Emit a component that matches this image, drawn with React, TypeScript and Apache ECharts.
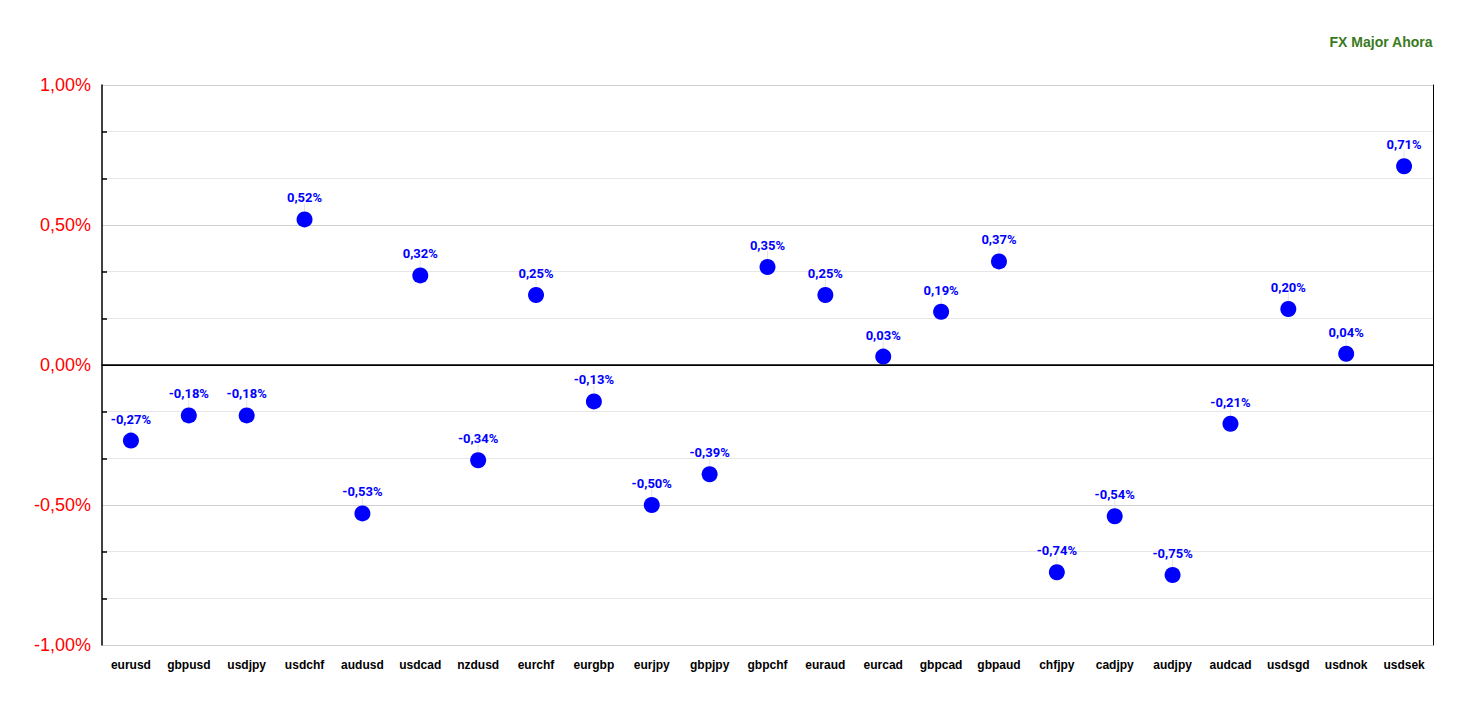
import React, { useEffect, useRef } from "react";
import * as echarts from "echarts";

const pairs = ["eurusd","gbpusd","usdjpy","usdchf","audusd","usdcad","nzdusd","eurchf","eurgbp","eurjpy","gbpjpy","gbpchf","euraud","eurcad","gbpcad","gbpaud","chfjpy","cadjpy","audjpy","audcad","usdsgd","usdnok","usdsek"];
const changes = [-0.27,-0.18,-0.18,0.52,-0.53,0.32,-0.34,0.25,-0.13,-0.50,-0.39,0.35,0.25,0.03,0.19,0.37,-0.74,-0.54,-0.75,-0.21,0.20,0.04,0.71];
const titleText = "FX Major Ahora";

const fmt = (v: number) => v.toFixed(2).replace(".", ",") + "%";

export default function App() {
  const ref = useRef<HTMLDivElement>(null);
  useEffect(() => {
    const chart = echarts.init(ref.current!, null, { renderer: "svg" });
    chart.setOption({
      animation: false,
      title: {
        text: titleText,
        right: 35,
        top: 35,
        padding: 0,
        textStyle: { fontFamily: "Liberation Sans", fontSize: 14, fontWeight: "bold", color: "#3a7a1e" },
      },
      grid: { left: 102, right: 35, top: 85, bottom: 62 },
      xAxis: [
        {
          type: "category",
          data: pairs,
          axisLine: { lineStyle: { color: "#000", width: 1.5 } },
          axisTick: { alignWithLabel: true, length: 6, lineStyle: { color: "#000", width: 2 } },
          axisLabel: { interval: 0, margin: 14, fontFamily: "Liberation Sans", fontWeight: "bold", fontSize: 12, color: "#000" },
          splitLine: { show: false },
        },
        {
          type: "category",
          data: pairs,
          position: "bottom",
          axisLine: { show: false },
          axisTick: { alignWithLabel: true, inside: true, length: 5, lineStyle: { color: "#000", width: 2 } },
          axisLabel: { show: false },
          splitLine: { show: false },
        },
      ],
      yAxis: [
        {
          type: "value",
          min: -1,
          max: 1,
          interval: 0.5,
          axisLine: { show: true, lineStyle: { color: "#000", width: 1.5 } },
          axisTick: { show: false, inside: true },
          minorTick: { show: true, splitNumber: 3, length: 5, lineStyle: { color: "#000", width: 1.5 } },
          minorSplitLine: { show: true, lineStyle: { color: "#e6e6e6", width: 1 } },
          splitLine: { show: true, lineStyle: { color: "#d0d0d0", width: 1 } },
          axisLabel: {
            formatter: (v: number) => fmt(v),
            color: "#ff0000",
            fontSize: 18,
            fontFamily: "Liberation Sans",
            margin: 11,
          },
        },
        {
          type: "value",
          min: -1,
          max: 1,
          position: "right",
          axisLine: { show: true, lineStyle: { color: "#000", width: 1 } },
          axisTick: { show: false },
          axisLabel: { show: false },
          splitLine: { show: false },
        },
      ],
      series: [
        {
          type: "custom",
          silent: true,
          data: changes.map((v, i) => [i, v]),
          renderItem: (params: any, api: any) => {
            const p = api.coord([api.value(0), api.value(1)]);
            return {
              type: "line",
              shape: { x1: p[0], y1: p[1] - 8, x2: p[0], y2: p[1] - 16 },
              style: { stroke: "#e4e4e4", lineWidth: 1 },
            };
          },
          z: 1,
        },
        {
          type: "scatter",
          data: changes,
          symbolSize: 16,
          z: 3,
          itemStyle: { color: "#0000ff", opacity: 1 },
          label: {
            show: true,
            position: "top",
            distance: 7,
            formatter: (p: any) => fmt(p.value),
            color: "#0000ff",
            fontFamily: "Roboto",
            fontWeight: "bold",
            fontSize: 13,
          },
          markLine: {
            silent: true,
            symbol: "none",
            label: { show: false },
            lineStyle: { color: "#000", type: "solid", width: 1 },
            data: [{ yAxis: 0 }],
          },
        },
      ],
    });
    return () => chart.dispose();
  }, []);
  return <div ref={ref} style={{ position: "absolute", left: 0, top: 0, width: 1468, height: 707 }} />;
}
